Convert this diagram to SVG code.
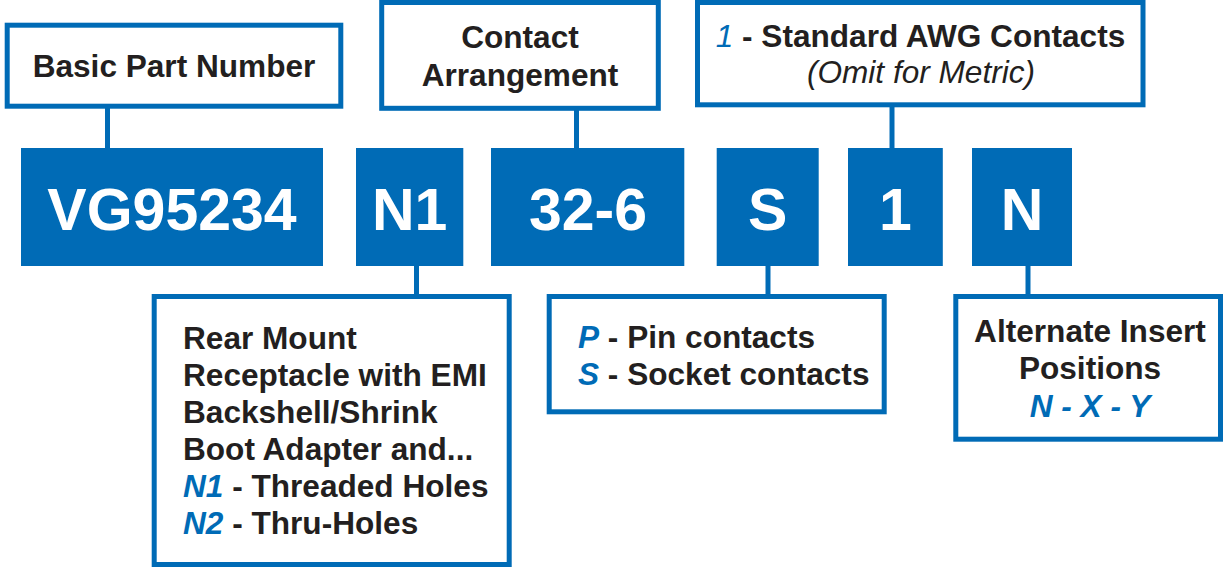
<svg xmlns="http://www.w3.org/2000/svg" width="1225" height="571" viewBox="0 0 1225 571">
<style>
.ob{fill:#fff;stroke:#006BB6;stroke-width:5}
.bb{fill:#006BB6}
.con{stroke:#006BB6;stroke-width:5;fill:none}
.big{font-family:"Liberation Sans",Arial,sans-serif;font-weight:bold;font-size:59px;fill:#fff;text-anchor:middle}
.lab{font-family:"Liberation Sans",Arial,sans-serif;font-weight:bold;font-size:31.6px;fill:#231F20}
.c{text-anchor:middle}
.bl{fill:#006BB6;font-style:italic}
.it{font-style:italic;font-weight:normal}
</style>
<rect width="1225" height="571" fill="#fff"/>
<g id="connectors">
<line class="con" x1="107.5" y1="106" x2="107.5" y2="149"/>
<line class="con" x1="576.5" y1="108" x2="576.5" y2="149"/>
<line class="con" x1="892" y1="104" x2="892" y2="149"/>
<line class="con" x1="416.5" y1="265" x2="416.5" y2="297"/>
<line class="con" x1="768" y1="265" x2="768" y2="297"/>
<line class="con" x1="1028" y1="265" x2="1028" y2="297"/>
</g>
<g id="basic-part-number">
<rect class="ob" x="7.2" y="25.2" width="333.6" height="81"/>
<text class="lab c" x="174" y="77">Basic Part Number</text>
</g>
<g id="contact-arrangement">
<rect class="ob" x="381.7" y="2.5" width="276.6" height="105.8"/>
<text class="lab c" x="520" y="47.5">Contact</text>
<text class="lab c" x="520" y="86">Arrangement</text>
</g>
<g id="awg">
<rect class="ob" x="697.5" y="2.5" width="445.5" height="102.3"/>
<text class="lab c" x="920.5" y="47"><tspan class="bl" font-weight="normal">1</tspan> - Standard AWG Contacts</text>
<text class="lab c it" x="921" y="83">(Omit for Metric)</text>
</g>
<g id="vg95234">
<rect class="bb" x="21" y="148" width="302" height="118"/>
<text class="big" x="172" y="230">VG95234</text>
</g>
<g id="n1">
<rect class="bb" x="356" y="148" width="107.3" height="118"/>
<text class="big" x="409.7" y="230">N1</text>
</g>
<g id="arr">
<rect class="bb" x="491" y="148" width="193.3" height="118"/>
<text class="big" x="588" y="230">32-6</text>
</g>
<g id="s">
<rect class="bb" x="716.7" y="148" width="102" height="118"/>
<text class="big" x="767.7" y="230">S</text>
</g>
<g id="one">
<rect class="bb" x="848" y="148" width="94.8" height="118"/>
<text class="big" x="895.4" y="230">1</text>
</g>
<g id="n">
<rect class="bb" x="972" y="148" width="100" height="118"/>
<text class="big" x="1022" y="230">N</text>
</g>
<g id="rear-mount">
<rect class="ob" x="154.2" y="296.5" width="355" height="268"/>
<text class="lab" x="183" y="349">Rear Mount</text>
<text class="lab" x="183" y="386">Receptacle with EMI</text>
<text class="lab" x="183" y="423">Backshell/Shrink</text>
<text class="lab" x="183" y="460">Boot Adapter and...</text>
<text class="lab" x="183" y="497"><tspan class="bl">N1</tspan> - Threaded Holes</text>
<text class="lab" x="183" y="534"><tspan class="bl">N2</tspan> - Thru-Holes</text>
</g>
<g id="pin-socket">
<rect class="ob" x="549.2" y="296.5" width="335" height="115.3"/>
<text class="lab" x="578" y="348"><tspan class="bl">P</tspan> - Pin contacts</text>
<text class="lab" x="578" y="385"><tspan class="bl">S</tspan> - Socket contacts</text>
</g>
<g id="alternate">
<rect class="ob" x="955.8" y="296.5" width="264.7" height="142.7"/>
<text class="lab c" x="1090" y="341.5">Alternate Insert</text>
<text class="lab c" x="1090" y="379">Positions</text>
<text class="lab c bl" x="1090" y="416.5">N - X - Y</text>
</g>
</svg>
